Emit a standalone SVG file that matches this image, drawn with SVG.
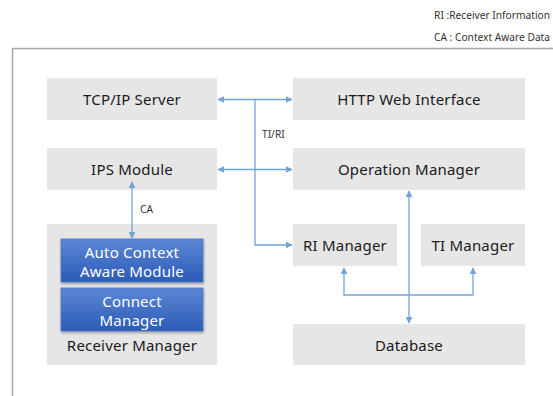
<svg xmlns="http://www.w3.org/2000/svg" width="553" height="396" viewBox="0 0 553 396">
<style>
.box{fill:#e7e6e6}
.t{font-family:"Noto Sans","Open Sans",sans-serif;font-size:15px;letter-spacing:0.2px;fill:#1a1a1a;text-anchor:middle;dominant-baseline:central}
.w{fill:#ffffff}
.lg{font-family:"Noto Sans","Open Sans",sans-serif;font-size:10.2px;fill:#333;text-anchor:end;dominant-baseline:central}
.sm{font-family:"Noto Sans","Open Sans",sans-serif;font-size:10.2px;fill:#333;dominant-baseline:central}
.c{fill:none;stroke:#72a3da;stroke-width:1.3}
</style>
<defs>
<linearGradient id="blue" x1="0" y1="0" x2="0" y2="1">
<stop offset="0" stop-color="#5c87d5"/>
<stop offset="1" stop-color="#2c5bb6"/>
</linearGradient>
<filter id="sh" x="-10%" y="-10%" width="130%" height="140%">
<feDropShadow dx="0.5" dy="1.5" stdDeviation="1.2" flood-color="#000" flood-opacity="0.35"/>
</filter>
<marker id="ah" viewBox="0 0 10 10" refX="9" refY="5" markerWidth="7" markerHeight="7" markerUnits="userSpaceOnUse" orient="auto-start-reverse">
<path d="M0,0 L10,5 L0,10 z" fill="#72a3da"/>
</marker>
</defs>
<rect width="553" height="396" fill="#fff"/>
<g id="legend">
<text class="lg" x="550" y="15">RI :Receiver Information</text>
<text class="lg" x="550" y="37">CA : Context Aware Data</text>
</g>
<path d="M12.5,396 V48.5 H553" fill="none" stroke="#a6a6a6" stroke-width="1.5"/>
<g id="tcp"><rect class="box" x="47" y="78" width="170" height="42"/><text class="t" x="132" y="99">TCP/IP Server</text></g>
<g id="http"><rect class="box" x="293" y="78" width="232" height="42"/><text class="t" x="409" y="99">HTTP Web Interface</text></g>
<g id="ips"><rect class="box" x="47" y="148" width="170" height="42"/><text class="t" x="132" y="169">IPS Module</text></g>
<g id="op"><rect class="box" x="293" y="148" width="232" height="42"/><text class="t" x="409" y="169">Operation Manager</text></g>
<g id="receiver"><rect class="box" x="47" y="224" width="170" height="141"/><text class="t" x="132" y="345">Receiver Manager</text></g>
<g id="auto"><rect x="61" y="239" width="142" height="43" fill="url(#blue)" stroke="#4a76c8" stroke-width="0.8" filter="url(#sh)"/><text class="t w" x="132" y="252">Auto Context</text><text class="t w" x="132" y="271">Aware Module</text></g>
<g id="connect"><rect x="61" y="288" width="142" height="43" fill="url(#blue)" stroke="#4a76c8" stroke-width="0.8" filter="url(#sh)"/><text class="t w" x="132" y="301">Connect</text><text class="t w" x="132" y="320">Manager</text></g>
<g id="ri"><rect class="box" x="293" y="224" width="104" height="42"/><text class="t" x="345" y="245">RI Manager</text></g>
<g id="ti"><rect class="box" x="421" y="224" width="104" height="42"/><text class="t" x="473" y="245">TI Manager</text></g>
<g id="db"><rect class="box" x="293" y="324" width="232" height="41"/><text class="t" x="409" y="345">Database</text></g>
<g id="connectors">
<path class="c" d="M218,99.5 H292" marker-start="url(#ah)" marker-end="url(#ah)"/>
<path class="c" d="M255,99.5 V245 H292" marker-end="url(#ah)"/>
<path class="c" d="M218,169.5 H292" marker-start="url(#ah)" marker-end="url(#ah)"/>
<path class="c" d="M132,182 V238" marker-start="url(#ah)" marker-end="url(#ah)"/>
<path class="c" d="M409,191 V323" marker-start="url(#ah)" marker-end="url(#ah)"/>
<path class="c" d="M344,268 V295 H473 V268" marker-start="url(#ah)" marker-end="url(#ah)"/>
<text class="sm" x="262" y="134">TI/RI</text>
<text class="sm" x="140" y="209">CA</text>
</g>
</svg>
